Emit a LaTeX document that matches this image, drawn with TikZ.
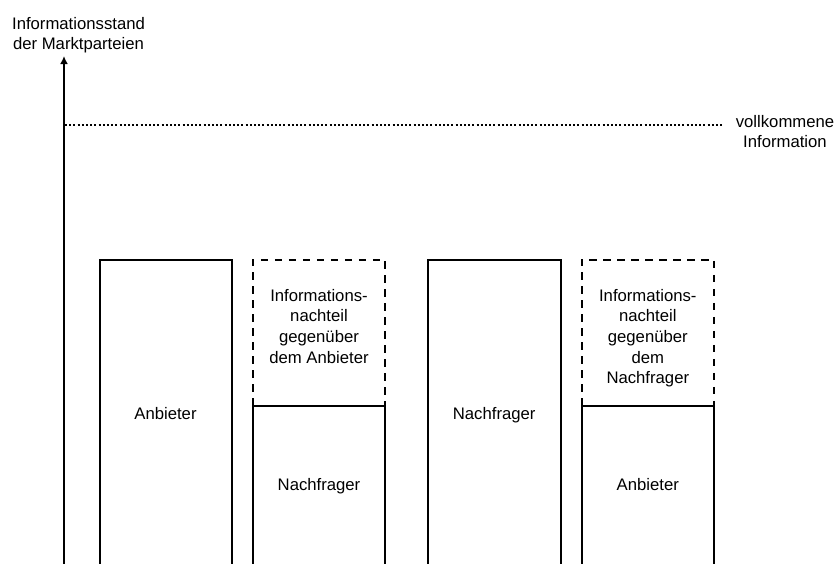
\documentclass[tikz,border=0pt]{standalone}
\usepackage{fontspec}
\setmainfont{Liberation Sans}
\usetikzlibrary{arrows.meta}
\begin{document}
\begin{tikzpicture}[x=1pt,y=-1pt,
  lbl/.style={inner sep=0pt,font=\fontsize{16.7}{20.6}\selectfont,align=center},
  solidline/.style={line width=2pt,line join=miter},
  dashline/.style={line width=2pt,dash pattern=on 7.5pt off 6.5pt},
  dotline/.style={line width=2pt,dash pattern=on 2pt off 2.2pt},
  axisline/.style={line width=2pt,-{Latex[length=8pt,width=8pt]}}]
\useasboundingbox (0,0) rectangle (838,563);
% axis
\coordinate (axb) at (64,566);
\coordinate (axt) at (64,56);
\draw[axisline] (axb) -- (axt);
\node[lbl,anchor=north] (ylab) at (78.5,17) {Informationsstand\\der Marktparteien};
% perfect information line
\coordinate (dl) at (65,125);
\coordinate (dr) at (722,125);
\draw[dotline] (dl) -- (dr);
\node[lbl,anchor=north] (perf) at (785,115) {vollkommene\\Information};
% box 1
\draw[solidline] (99.5,566) -- (99.5,259.5) -- (231.5,259.5) -- (231.5,566);
\node[lbl,anchor=base] (b1) at (165.5,419.5) {Anbieter};
% box 2
\draw[dashline] (253,405.7) -- (253,259.5) -- (385,259.5) -- (385,405.7);
\draw[solidline] (253,566) -- (253,405.7) -- (385,405.7) -- (385,566);
\node[lbl,anchor=north] (b2t) at (319,289) {Informations-\\nachteil\\gegenüber\\dem Anbieter};
\node[lbl,anchor=base] (b2b) at (319,490) {Nachfrager};
% box 3
\draw[solidline] (428,566) -- (428,259.5) -- (560.5,259.5) -- (560.5,566);
\node[lbl,anchor=base] (b3) at (494.2,419.5) {Nachfrager};
% box 4
\draw[dashline] (581.5,405.7) -- (581.5,259.5) -- (714,259.5) -- (714,405.7);
\draw[solidline] (581.5,566) -- (581.5,405.7) -- (714,405.7) -- (714,566);
\node[lbl,anchor=north] (b4t) at (647.8,289) {Informations-\\nachteil\\gegenüber\\dem\\Nachfrager};
\node[lbl,anchor=base] (b4b) at (647.8,490) {Anbieter};
\end{tikzpicture}
\end{document}
